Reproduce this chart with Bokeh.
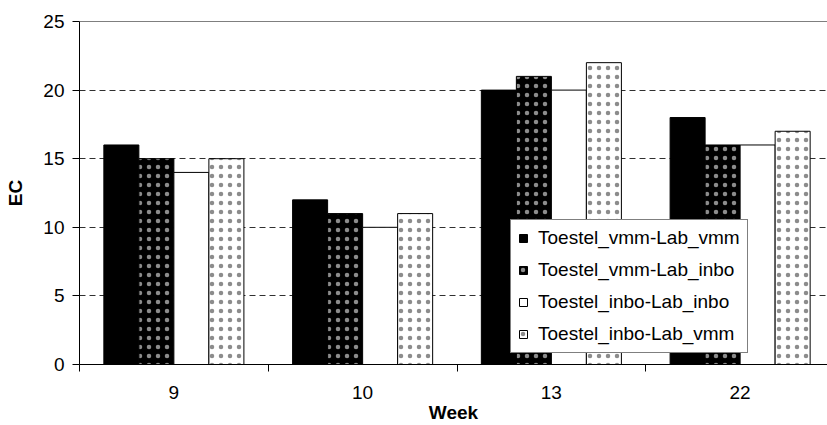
from bokeh.plotting import figure
from bokeh.models import ColumnDataSource, Range1d, FixedTicker, Span
from bokeh.transform import dodge
from bokeh.embed import file_html
from bokeh.resources import INLINE

# ---- data ----
weeks = ["9", "10", "13", "22"]
vmm_vmm = [16, 12, 20, 18]
vmm_inbo = [15, 11, 21, 16]
inbo_inbo = [14, 10, 20, 16]
inbo_vmm = [15, 11, 22, 17]
series_names = ["Toestel_vmm-Lab_vmm", "Toestel_vmm-Lab_inbo",
                "Toestel_inbo-Lab_inbo", "Toestel_inbo-Lab_vmm"]
y_ticks = [0, 5, 10, 15, 20, 25]
x_title = "Week"
y_title = "EC"

xpos = [i + 0.5 for i in range(len(weeks))]
src = ColumnDataSource(dict(x=xpos, a=vmm_vmm, b=vmm_inbo, c=inbo_inbo, d=inbo_vmm))

FONT = "Liberation Sans"
FS = "19px"

p = figure(width=827, height=425, output_backend="svg", toolbar_location=None,
           x_range=Range1d(0, 4 * 748 / 755), y_range=Range1d(0, 25),
           min_border_left=79, min_border_top=21, min_border_right=0,
           min_border_bottom=0)
p.outline_line_color = None
p.background_fill_color = "white"
p.border_fill_color = "white"

bw = 0.1855
offs = [-1.5 * bw, -0.5 * bw, 0.5 * bw, 1.5 * bw]
styles = [
    dict(fill_color="black"),
    dict(fill_color="black", hatch_pattern="dot", hatch_color="white", hatch_alpha=0.55,
         hatch_scale=9, hatch_weight=0.3),
    dict(fill_color="white"),
    dict(fill_color="white", hatch_pattern="dot", hatch_color="black", hatch_alpha=0.45,
         hatch_scale=9, hatch_weight=0.3),
]
for col, off, name, st in zip(["a", "b", "c", "d"], offs, series_names, styles):
    p.vbar(x=dodge("x", off, range=p.x_range), top=col, width=bw, source=src,
           line_color="black", line_width=1, legend_label=name, **st)

# top border
p.add_layout(Span(location=25, dimension="width", line_color="black", line_width=1))

# grid
p.xgrid.visible = False
p.ygrid.ticker = FixedTicker(ticks=[5, 10, 15, 20])
p.ygrid.grid_line_color = "#303030"
p.ygrid.grid_line_dash = "6 4"
p.ygrid.grid_line_width = 1

# y axis
p.yaxis.ticker = FixedTicker(ticks=y_ticks)
p.yaxis.axis_label = y_title
p.yaxis.axis_label_text_font = FONT
p.yaxis.axis_label_text_font_style = "bold"
p.yaxis.axis_label_text_font_size = FS
p.yaxis.axis_label_text_color = "black"
p.yaxis.axis_label_standoff = 14
p.yaxis.major_label_text_font = FONT
p.yaxis.major_label_text_font_size = FS
p.yaxis.major_label_text_color = "black"
p.yaxis.major_tick_out = 7
p.yaxis.major_tick_in = 0
p.yaxis.minor_tick_line_color = None
p.yaxis.major_label_standoff = 8
p.yaxis.axis_line_color = "black"
p.yaxis.major_tick_line_color = "black"

# x axis
p.xaxis.ticker = FixedTicker(ticks=xpos, minor_ticks=list(range(len(weeks) + 1)))
p.xaxis.major_label_overrides = {x: w for x, w in zip(xpos, weeks)}
p.xaxis.major_tick_out = 0
p.xaxis.major_tick_in = 0
p.xaxis.minor_tick_out = 7
p.xaxis.minor_tick_in = 0
p.xaxis.minor_tick_line_color = "black"
p.xaxis.major_label_standoff = 14
p.xaxis.major_label_text_font = FONT
p.xaxis.major_label_text_font_size = FS
p.xaxis.major_label_text_color = "black"
p.xaxis.axis_label = x_title
p.xaxis.axis_label_text_font = FONT
p.xaxis.axis_label_text_font_style = "bold"
p.xaxis.axis_label_text_font_size = FS
p.xaxis.axis_label_text_color = "black"
p.xaxis.axis_label_standoff = 0
p.xaxis.axis_line_color = "black"

# legend
lg = p.legend[0]
lg.location = (431, 11)
lg.border_line_color = "black"
lg.border_line_width = 1
lg.background_fill_color = "white"
lg.background_fill_alpha = 1
lg.label_text_font = FONT
lg.label_text_font_size = FS
lg.label_text_color = "black"
lg.glyph_width = 10
lg.glyph_height = 10
lg.label_standoff = 10
lg.padding = 7
lg.spacing = 10
lg.label_height = 22
lg.margin = 0

open("out.html", "w").write(file_html(p, INLINE))
